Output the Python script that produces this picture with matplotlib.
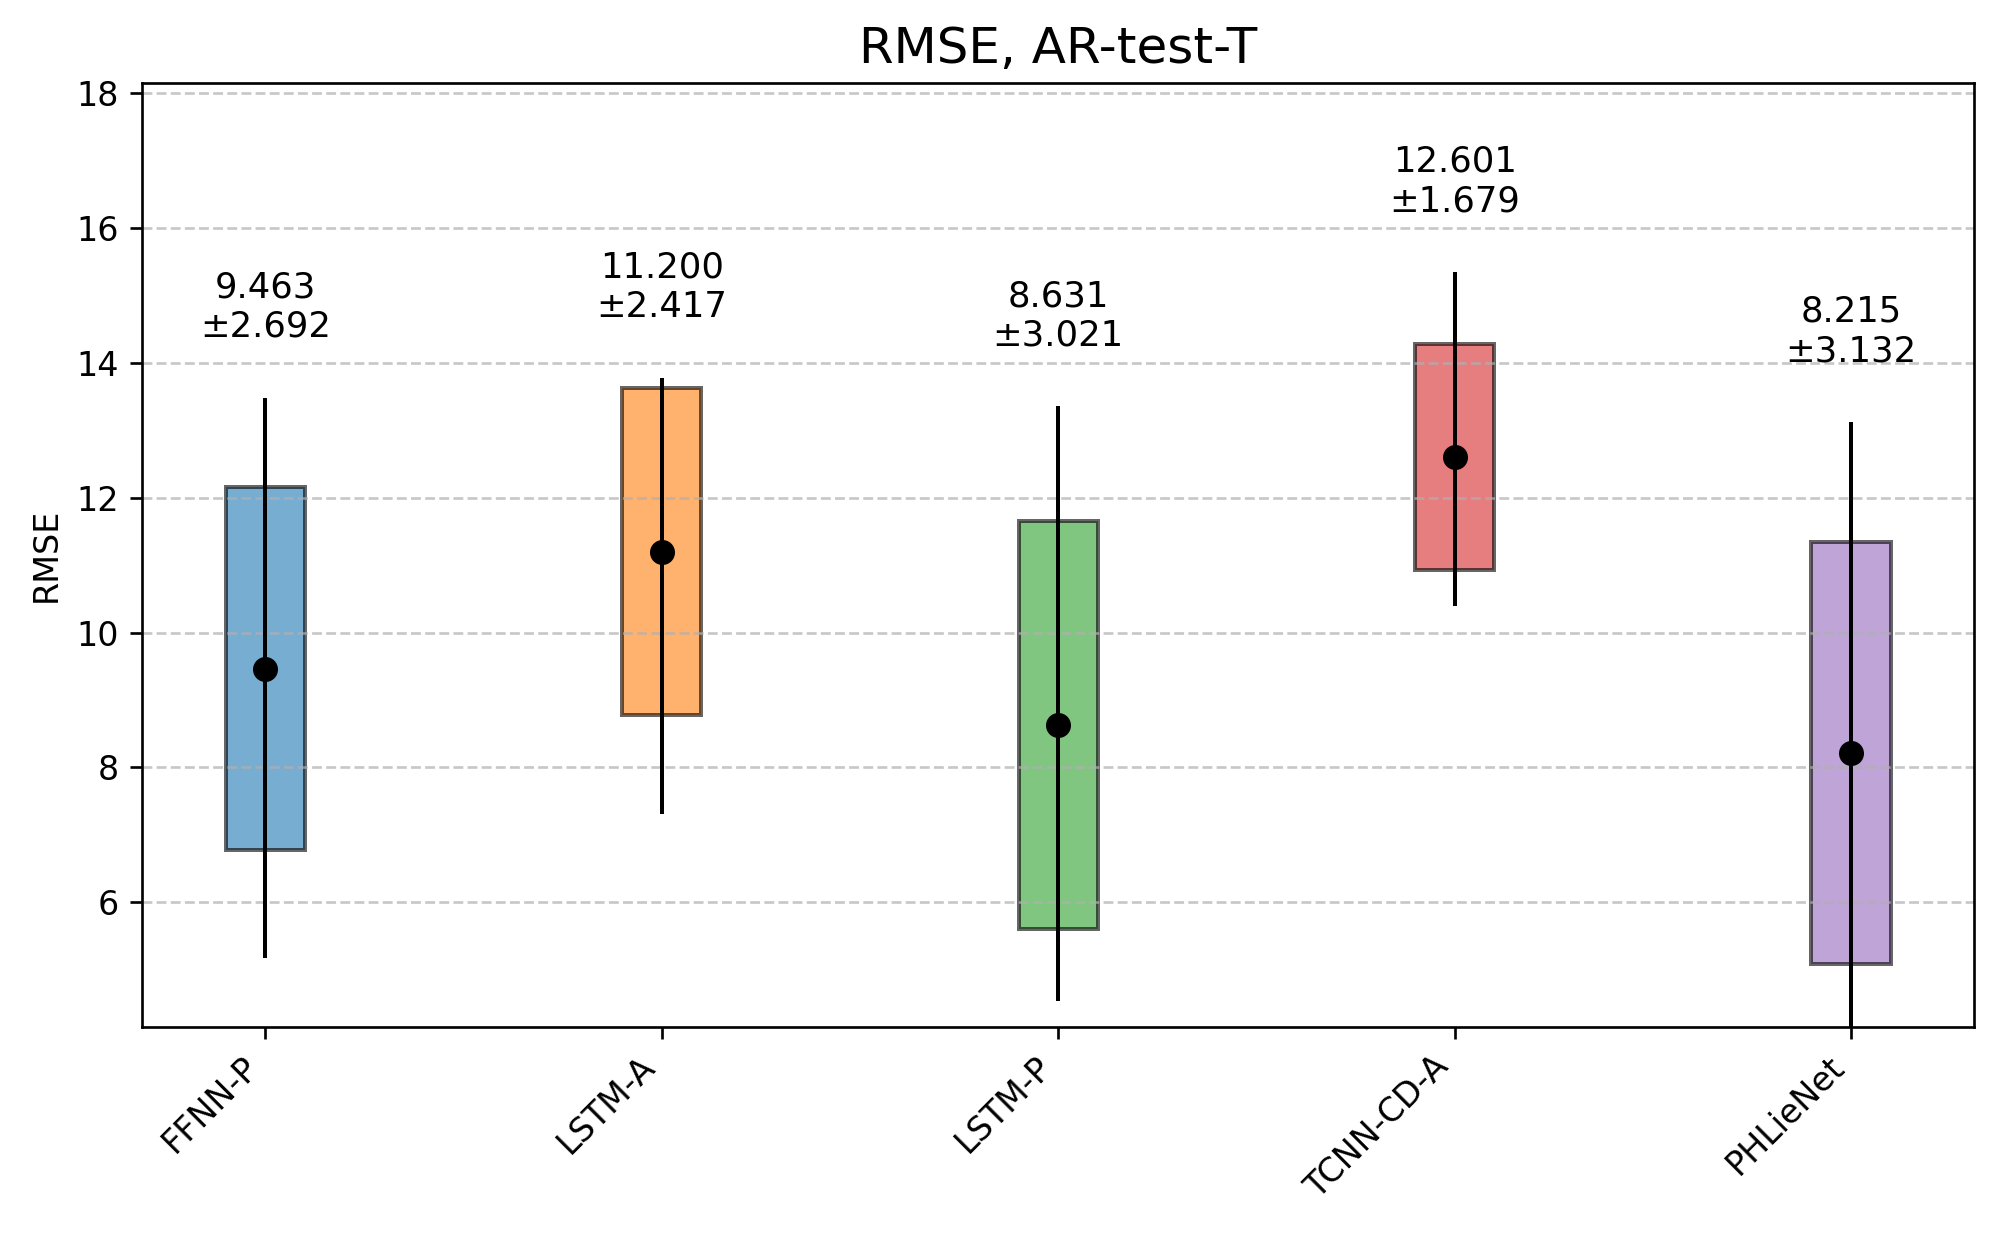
import numpy as np
import matplotlib
matplotlib.use('Agg')
import matplotlib.pyplot as plt

# 模型名称与统计量
models = ['FFNN-P', 'LSTM-A', 'LSTM-P', 'TCNN-CD-A', 'PHLieNet']
means = [9.463, 11.200, 8.631, 12.601, 8.215]
stds = [2.692, 2.417, 3.021, 1.679, 3.132]
# 最小值 / 最大值（须线）
mins = [5.18, 7.31, 4.54, 10.39, 4.00]
maxs = [13.48, 13.77, 13.35, 15.34, 13.12]
colors = ['#1f77b4', '#ff7f0e', '#2ca02c', '#d62728', '#9467bd']

fig = plt.figure(figsize=(2000 / 240, 1240 / 240), dpi=240)
ax = fig.add_axes([0.0712, 0.172, 0.9158, 0.7608])

x = np.arange(len(models))
means = np.array(means)
stds = np.array(stds)

# 均值 ± 标准差 的方框
ax.bar(x, 2 * stds, bottom=means - stds, width=0.2, color=colors,
       alpha=0.6, edgecolor='black', linewidth=1.2)

# 最小值到最大值的竖线
ax.vlines(x, mins, maxs, colors='black', linewidth=1.2)

# 均值点
ax.plot(x, means, 'o', color='black', markersize=6.5)

# 标注数值
for xi, m, s, top in zip(x, means, stds, maxs):
    ax.text(xi, top + 0.8, f'{m:.3f}\n±{s:.3f}', ha='center', va='bottom',
            multialignment='center', fontsize=10.6)

ax.set_xticks(x)
ax.set_xticklabels(models, rotation=45, ha='right')
ax.set_ylim(4.157, 18.14)
ax.set_ylabel('RMSE')
ax.set_title('RMSE, AR-test-T', fontsize=15)
ax.grid(axis='y', linestyle='--', alpha=0.7)

fig.savefig('out.png', dpi=240)
